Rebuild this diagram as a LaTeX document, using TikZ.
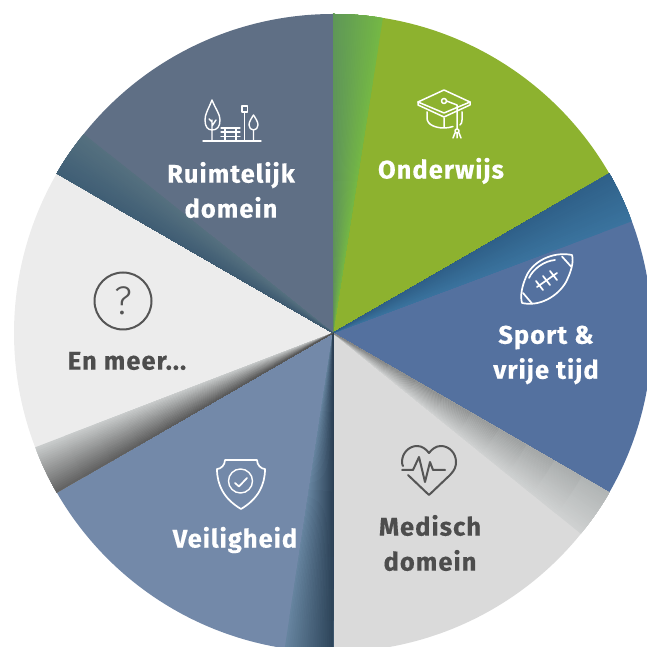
\documentclass[tikz,border=0pt]{standalone}
\usepackage{fontspec}
\setmainfont{Fira Sans}[BoldFont={Fira Sans Bold},BoldFeatures={FakeBold=0.35}]
\newfontfamily\lightfont{Fira Sans Light}
\definecolor{cGreen}{HTML}{8DB22F}
\definecolor{cSport}{HTML}{54719F}
\definecolor{cMed}{HTML}{DADADA}
\definecolor{cVeil}{HTML}{7389A9}
\definecolor{cMeer}{HTML}{ECECEC}
\definecolor{cRuim}{HTML}{5F6F85}
\definecolor{cTxt}{HTML}{4D4D4D}
\definecolor{cIco}{HTML}{555555}
\tikzset{
  lab/.style={font=\fontsize{25.5}{35}\selectfont\bfseries\addfontfeature{LetterSpace=4},align=center,inner sep=0pt},
  icoW/.style={draw=white,line width=1.7pt,line cap=round,line join=round},
  icoG/.style={draw=cIco,line width=2pt,line cap=round,line join=round},
}
% #1 boundary angle, #2 far angle, #3 boundary colour near centre, #4 boundary colour at rim, #5 far colour
\newcommand{\wedgeGrad}[5]{%
  \definecolor{gIn}{HTML}{#3}\definecolor{gOut}{HTML}{#4}\definecolor{gFar}{HTML}{#5}%
  \foreach \gi in {24,23,...,0}{%
    \pgfmathsetmacro{\gAng}{#1+(#2-#1)*\gi/24}%
    \pgfmathsetmacro{\gT}{100*\gi/24}%
    \foreach \gj in {10,9,...,1}{%
      \pgfmathsetmacro{\gR}{319*\gj/10}%
      \pgfmathsetmacro{\gS}{100*\gj/10}%
      \colorlet{cA}{gOut!\gS!gIn}%
      \colorlet{cB}{gFar!\gT!cA}%
      \fill[cB] (0,0) -- (\gAng:\gR) arc[start angle=\gAng,end angle=#1,radius=\gR] -- cycle;
    }%
  }%
}
\newcommand{\sector}[3]{\fill[#3] (0,0) -- (#1:319) arc[start angle=#1,end angle=#2,radius=319] -- cycle;}
\begin{document}
\begin{tikzpicture}[x=1pt,y=1pt]
\useasboundingbox (0,0) rectangle (647,647);
\clip (0,0) rectangle (647,647);
\begin{scope}[shift={(333,314)}]
  \sector{30}{90}{cGreen}
  \sector{-30}{30}{cSport}
  \sector{-90}{-30}{cMed}
  \sector{-150}{-90}{cVeil}
  \sector{150}{210}{cMeer}
  \sector{90}{150}{cRuim}
  \wedgeGrad{90}{81}{5E8F60}{5E9658}{74B745}
  \wedgeGrad{30}{20.5}{2F5F88}{2F6088}{3A739E}
  \wedgeGrad{-30}{-39}{6E6E6E}{B0B4B4}{CFD1D1}
  \wedgeGrad{-90}{-98.7}{2A3D52}{2C4358}{66849F}
  \wedgeGrad{210}{201}{555555}{606060}{C8CBCB}
  \wedgeGrad{150}{141.4}{3F5A70}{3F5E75}{55707F}
\end{scope}
\begin{scope}[x=1pt,y=-1pt,shift={(0,-647)}]
  \node[lab,text=white] (ruim) at (231,190) {Ruimtelijk\\domein};
  \node[lab,text=white] (onder) at (441,171) {Onderwijs};
  \node[lab,text=white] (sport) at (546,355) {Sport \&\\vrije tijd};
  \node[lab,text=cTxt] (med) at (430,543) {Medisch\\domein};
  \node[lab,text=white] (veil) at (235,540) {Veiligheid};
  \node[lab,text=cTxt] (meer) at (127,361) {En meer...};
  % park
  \draw[icoW,line width=1.4pt] (203,141) -- (261,141);
  \draw[icoW,line width=1.4pt] (212,100) .. controls (208,110) and (205,114) .. (205,120) .. controls (205,127) and (208,130) .. (212,130) .. controls (217,130) and (220,127) .. (220,120) .. controls (220,114) and (216,110) .. (212,100) -- cycle;
  \draw[icoW,line width=1.4pt] (212,141) -- (212,120) (212,126) -- (216,120) (212,122) -- (209,119);
  \draw[icoW,line width=1.2pt] (221,128) -- (240,128) (221,132) -- (240,132) (221,136.5) -- (240,136.5) (225,128) -- (225,141) (236,128) -- (236,141);
  \draw[icoW,line width=1.4pt] (244.5,112) -- (244.5,141) (242,106) -- (247.5,106) -- (247.5,112) -- (242,112) -- cycle;
  \draw[icoW,line width=1.4pt] (253.5,115) .. controls (251,119) and (249,122) .. (249,125) .. controls (249,128) and (251,130) .. (253.5,130) .. controls (256,130) and (258,128) .. (258,125) .. controls (258,122) and (256,119) .. (253.5,115) -- cycle (253.5,130) -- (253.5,141);
  % cap
  \draw[icoW,line width=1.5pt] (444,90) -- (470,102) -- (444,113) -- (418,102) -- cycle;
  \draw[icoW,line width=1.5pt] (418,102) -- (418,105) -- (444,117) -- (470,105) -- (470,102);
  \draw[icoW,line width=1.5pt] (444,101) circle[radius=2.5] (446.5,101) -- (457,105) -- (457,129);
  \draw[icoW,line width=1.5pt] (457,131) circle[radius=2] (455,133) -- (453,138) (457,133) -- (457,138) (459,133) -- (461,138);
  \draw[icoW,line width=1.5pt] (427,112) -- (427,118) .. controls (427,125) and (436,128) .. (444,128) .. controls (447,128) and (450,127.5) .. (453,126.5) (444,118) -- (444,127) (462,112) -- (462,120) .. controls (462,122) and (461.5,124) .. (460,125);
  % football
  \draw[icoW] (572,255) .. controls (552,251) and (532,262) .. (526,277) .. controls (522,286) and (520,296) .. (522,303) .. controls (540,307) and (558,296) .. (566,282) .. controls (571,272) and (574,262) .. (572,255) -- cycle;
  \draw[icoW] (562,256.5) -- (571,266.5) (523,293) -- (532,303.5);
  \draw[icoW] (529,278) .. controls (533,269) and (544,261) .. (555,260);
  \draw[icoW] (537,287) -- (557,273) (536,281) -- (543,290) (543,276) -- (550,285) (550,271) -- (557,280);
  % heart
  \draw[icoG] (408,475) -- (429,495) -- (450,475) .. controls (455,470) and (456,466) .. (456,462) .. controls (456,453) and (449,446) .. (441,446) .. controls (436,446) and (432,449) .. (429,453) .. controls (426,449) and (422,446) .. (417,446) .. controls (409,446) and (402,453) .. (402,462) .. controls (402,464) and (402.5,465) .. (403,466);
  \draw[icoG] (402,470) -- (413,470) -- (419,457) -- (425,482) -- (430,462) -- (433,470) -- (445,470);
  % shield
  \draw[icoW] (225,460) -- (257,460) .. controls (257,465) and (261,469) .. (265,469) .. controls (265,485) and (258,499) .. (241,509) .. controls (224,499) and (217,485) .. (217,469) .. controls (221,469) and (225,465) .. (225,460) -- cycle;
  \draw[icoW,line width=1.4pt] (240.5,481) circle[radius=12];
  \draw[icoW] (235,483) -- (239,486.5) -- (247,478);
  % question
  \draw[icoG] (123,301) circle[radius=28.5];
  \node[text=cIco,inner sep=0pt,font=\fontsize{40}{40}\selectfont\lightfont] (q) at (123,301) {?};
\end{scope}
\end{tikzpicture}
\end{document}
